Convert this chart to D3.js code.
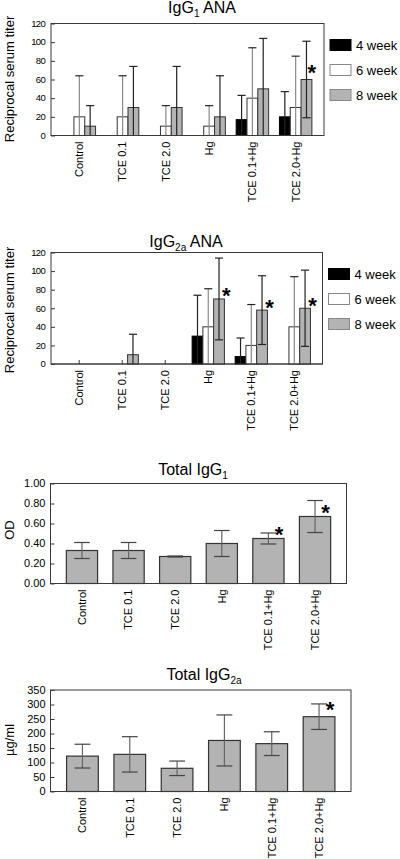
<!DOCTYPE html>
<html>
<head>
<meta charset="utf-8">
<script src="https://cdn.jsdelivr.net/npm/d3@7"></script>
<style>
  html, body { margin: 0; padding: 0; background: #fff; }
  svg { display: block; font-family: "Liberation Sans", Arial, sans-serif; }
</style>
</head>
<body>
<svg id="chart" width="400" height="859"></svg>
<script>
// ---------------- DATA ----------------
const categories = ["Control", "TCE 0.1", "TCE 2.0", "Hg", "TCE 0.1+Hg", "TCE 2.0+Hg"];
const weeks = ["4 week", "6 week", "8 week"];

// IgG1 ANA (reciprocal serum titer)
const igg1Ana4wk = [0, 0, 0, 0, 17, 20];
const igg1Ana4wkErr = [0, 0, 0, 0, 26, 27];
const igg1Ana6wk = [20, 20, 10, 10, 40, 30];
const igg1Ana6wkErr = [44, 44, 22, 22, 54, 55];
const igg1Ana8wk = [10, 30, 30, 20, 50, 60];
const igg1Ana8wkErr = [22, 44, 44, 44, 54, 41];
const igg1AnaStars = [["TCE 2.0+Hg", "8 week"]];

// IgG2a ANA (reciprocal serum titer)
const igg2aAna4wk = [0, 0, 0, 30, 8, 0];
const igg2aAna4wkErr = [0, 0, 0, 44, 20, 0];
const igg2aAna6wk = [0, 0, 0, 40, 20, 40];
const igg2aAna6wkErr = [0, 0, 0, 41, 44, 54];
const igg2aAna8wk = [0, 10, 0, 70, 58, 60];
const igg2aAna8wkErr = [0, 22, 0, 44, 37, 41];
const igg2aAnaStars = [["Hg", "8 week"], ["TCE 0.1+Hg", "8 week"], ["TCE 2.0+Hg", "8 week"]];

// Total IgG1 (OD)
const totalIgG1 = [0.33, 0.33, 0.27, 0.40, 0.45, 0.67];
const totalIgG1Err = [0.08, 0.08, 0.005, 0.13, 0.055, 0.16];
const totalIgG1Stars = ["TCE 0.1+Hg", "TCE 2.0+Hg"];

// Total IgG2a (µg/ml)
const totalIgG2a = [122, 128, 80, 176, 165, 258];
const totalIgG2aErr = [41, 61, 25, 88, 41, 44];
const totalIgG2aStars = ["TCE 2.0+Hg"];

// tick values
const anaTicks = [0, 20, 40, 60, 80, 100, 120];
const odTicks = [0, 0.2, 0.4, 0.6, 0.8, 1.0];
const ugTicks = [0, 50, 100, 150, 200, 250, 300, 350];

// ---------------- STYLE ----------------
const LINE = "#3a3a3a";
const weekFill = { "4 week": "#000000", "6 week": "#ffffff", "8 week": "#b3b3b3" };
const weekStroke = { "4 week": "#000000", "6 week": "#333333", "8 week": "#333333" };
const legendStroke = { "4 week": "#000000", "6 week": "#888888", "8 week": "#888888" };
const errColor = { "4 week": "#222222", "6 week": "#8a8a8a", "8 week": "#222222" };

const svg = d3.select("#chart");

function title(g, x, y, main, sub, tail) {
  const t = g.append("text").attr("x", x).attr("y", y)
    .attr("text-anchor", "middle").attr("font-size", 16).attr("fill", "#000");
  t.append("tspan").text(main);
  t.append("tspan").attr("font-size", 10).attr("dy", 4).text(sub);
  if (tail) t.append("tspan").attr("dy", -4).text(tail);
}

function yLabel(x, y, txt) {
  svg.append("text").attr("transform", `translate(${x},${y}) rotate(-90)`)
    .attr("text-anchor", "middle").attr("font-size", 13).attr("fill", "#000").text(txt);
}

function frame(L, R, T, B) {
  svg.append("rect").attr("x", L).attr("y", T).attr("width", R - L).attr("height", B - T)
    .attr("fill", "none").attr("stroke", LINE).attr("stroke-width", 1);
}

function yAxis(y, L, ticks, fmt, condensed) {
  const ax = d3.axisRight(y).tickValues(ticks).tickSize(4).tickFormat(() => "");
  const g = svg.append("g").attr("transform", `translate(${L},0)`).call(ax);
  g.select(".domain").remove();
  g.selectAll(".tick line").attr("stroke", LINE);
  const lab = svg.append("g");
  ticks.forEach(v => {
    const t = lab.append("text").attr("x", L - (condensed ? 6 : 5)).attr("y", y(v))
      .attr("dy", "0.35em").attr("text-anchor", "end").attr("fill", "#000")
      .attr("font-size", condensed ? 9.5 : 11).text(fmt(v));
    if (condensed) t.attr("letter-spacing", "-0.7px");
  });
}

function catLabels(x, B) {
  const g = svg.append("g");
  categories.forEach(c => {
    g.append("text")
      .attr("transform", `translate(${x(c) + x.bandwidth() / 2},${B + 6}) rotate(-90)`)
      .attr("text-anchor", "end").attr("dy", "0.35em")
      .attr("font-size", 11).attr("fill", "#000").text(c);
  });
}

function star(xp, yp) {
  svg.append("text").attr("x", xp).attr("y", yp + 12.5).attr("text-anchor", "middle")
    .attr("font-size", 22).attr("font-weight", "bold").attr("fill", "#000").text("*");
}

// ---------------- ANA PANELS ----------------
function anaPanel(cfg) {
  const { L, R, T, B, means, errs, stars, starDx, starDy } = cfg;
  const x = d3.scaleBand().domain(categories).range([L, R]).paddingInner(0.25).paddingOuter(0.28);
  const xs = d3.scaleBand().domain(weeks).range([0, x.bandwidth()]).padding(0);
  const y = d3.scaleLinear().domain([0, 120]).range([B, T]);

  frame(L, R, T, B);
  yAxis(y, L, anaTicks, d3.format("d"), true);
  categories.forEach(c => {
    const cx = x(c) + x.bandwidth() / 2;
    svg.append("line").attr("x1", cx).attr("x2", cx).attr("y1", B).attr("y2", B - 4)
      .attr("stroke", LINE);
  });

  weeks.forEach((w, wi) => {
    categories.forEach((c, ci) => {
      const v = means[wi][ci], e = errs[wi][ci];
      if (v === 0 && e === 0) return;
      const bx = x(c) + xs(w), bw = xs.bandwidth();
      const cx = bx + bw / 2;
      if (v > 0) {
        svg.append("rect").attr("x", bx).attr("y", y(v)).attr("width", bw).attr("height", y(0) - y(v))
          .attr("fill", weekFill[w]).attr("stroke", weekStroke[w]).attr("stroke-width", 1);
      }
      if (e > 0) {
        const lo = Math.max(0, v - e), hi = v + e;
        const cw = bw * 0.75;
        svg.append("line").attr("x1", cx).attr("x2", cx).attr("y1", y(lo)).attr("y2", y(hi))
          .attr("stroke", errColor[w]).attr("stroke-width", 1.2);
        svg.append("line").attr("x1", cx - cw / 2).attr("x2", cx + cw / 2).attr("y1", y(hi)).attr("y2", y(hi))
          .attr("stroke", "#222").attr("stroke-width", 1.2);
        if (v - e > 0) {
          svg.append("line").attr("x1", cx - cw / 2).attr("x2", cx + cw / 2).attr("y1", y(lo)).attr("y2", y(lo))
            .attr("stroke", "#222").attr("stroke-width", 1.2);
        }
      }
    });
  });
  svg.append("line").attr("x1", L).attr("x2", R).attr("y1", B).attr("y2", B).attr("stroke", LINE);

  stars.forEach(([c, w]) => {
    const wi = weeks.indexOf(w), ci = categories.indexOf(c);
    const bx = x(c) + xs(w) + xs.bandwidth();
    star(bx + starDx, y(means[wi][ci]) - starDy);
  });

  catLabels(x, B);

  weeks.forEach((w, i) => {
    const ly = T + 16 + i * 25;
    svg.append("rect").attr("x", R + 6).attr("y", ly).attr("width", 21).attr("height", 11)
      .attr("fill", weekFill[w]).attr("stroke", legendStroke[w]).attr("stroke-width", 1);
    svg.append("text").attr("x", R + 32).attr("y", ly + 10).attr("font-size", 13)
      .attr("fill", "#000").text(w);
  });
}

// ---------------- TOTAL PANELS ----------------
function totalPanel(cfg) {
  const { L, R, T, B, domain, ticks, fmt, vals, errs, stars, starDy } = cfg;
  const x = d3.scaleBand().domain(categories).range([L, R]).paddingInner(0.33).paddingOuter(0.34);
  const y = d3.scaleLinear().domain(domain).range([B, T]);
  frame(L, R, T, B);
  yAxis(y, L, ticks, fmt, false);
  categories.forEach((c, i) => {
    const bx = x(c), bw = x.bandwidth(), cx = bx + bw / 2;
    svg.append("rect").attr("x", bx).attr("y", y(vals[i])).attr("width", bw).attr("height", y(0) - y(vals[i]))
      .attr("fill", "#b3b3b3").attr("stroke", "#333").attr("stroke-width", 1.2);
    const lo = vals[i] - errs[i], hi = vals[i] + errs[i];
    const cw = bw * 0.5;
    svg.append("line").attr("x1", cx).attr("x2", cx).attr("y1", y(lo)).attr("y2", y(hi))
      .attr("stroke", "#666").attr("stroke-width", 1.2);
    [lo, hi].forEach(v => {
      svg.append("line").attr("x1", cx - cw / 2).attr("x2", cx + cw / 2).attr("y1", y(v)).attr("y2", y(v))
        .attr("stroke", "#444").attr("stroke-width", 1.2);
    });
  });
  svg.append("line").attr("x1", L).attr("x2", R).attr("y1", B).attr("y2", B).attr("stroke", LINE);
  stars.forEach(c => {
    const i = categories.indexOf(c);
    star(x(c) + x.bandwidth() - 5, y(vals[i]) - starDy);
  });
  catLabels(x, B);
}

// Panel 1
title(svg, 202, 13, "IgG", "1", " ANA");
yLabel(14, 79, "Reciprocal serum titer");
anaPanel({
  L: 51, R: 324, T: 23.5, B: 135.5,
  means: [igg1Ana4wk, igg1Ana6wk, igg1Ana8wk],
  errs: [igg1Ana4wkErr, igg1Ana6wkErr, igg1Ana8wkErr],
  stars: igg1AnaStars, starDx: 0, starDy: 12
});

// Panel 2
title(svg, 186, 246.5, "IgG", "2a", " ANA");
yLabel(14, 310, "Reciprocal serum titer");
anaPanel({
  L: 51, R: 322.5, T: 252.5, B: 364,
  means: [igg2aAna4wk, igg2aAna6wk, igg2aAna8wk],
  errs: [igg2aAna4wkErr, igg2aAna6wkErr, igg2aAna8wkErr],
  stars: igg2aAnaStars, starDx: 2, starDy: 8
});

// Panel 3
title(svg, 193, 475, "Total IgG", "1", "");
yLabel(14, 530, "OD");
totalPanel({
  L: 50.5, R: 346.5, T: 483.5, B: 583.5,
  domain: [0, 1.0], ticks: odTicks, fmt: d3.format(".2f"),
  vals: totalIgG1, errs: totalIgG1Err, stars: totalIgG1Stars, starDy: 9
});

// Panel 4
title(svg, 204, 680, "Total IgG", "2a", "");
yLabel(14, 740, "µg/ml");
totalPanel({
  L: 50.5, R: 351, T: 690, B: 791.5,
  domain: [0, 350], ticks: ugTicks, fmt: d3.format("d"),
  vals: totalIgG2a, errs: totalIgG2aErr, stars: totalIgG2aStars, starDy: 12
});
</script>
</body>
</html>
